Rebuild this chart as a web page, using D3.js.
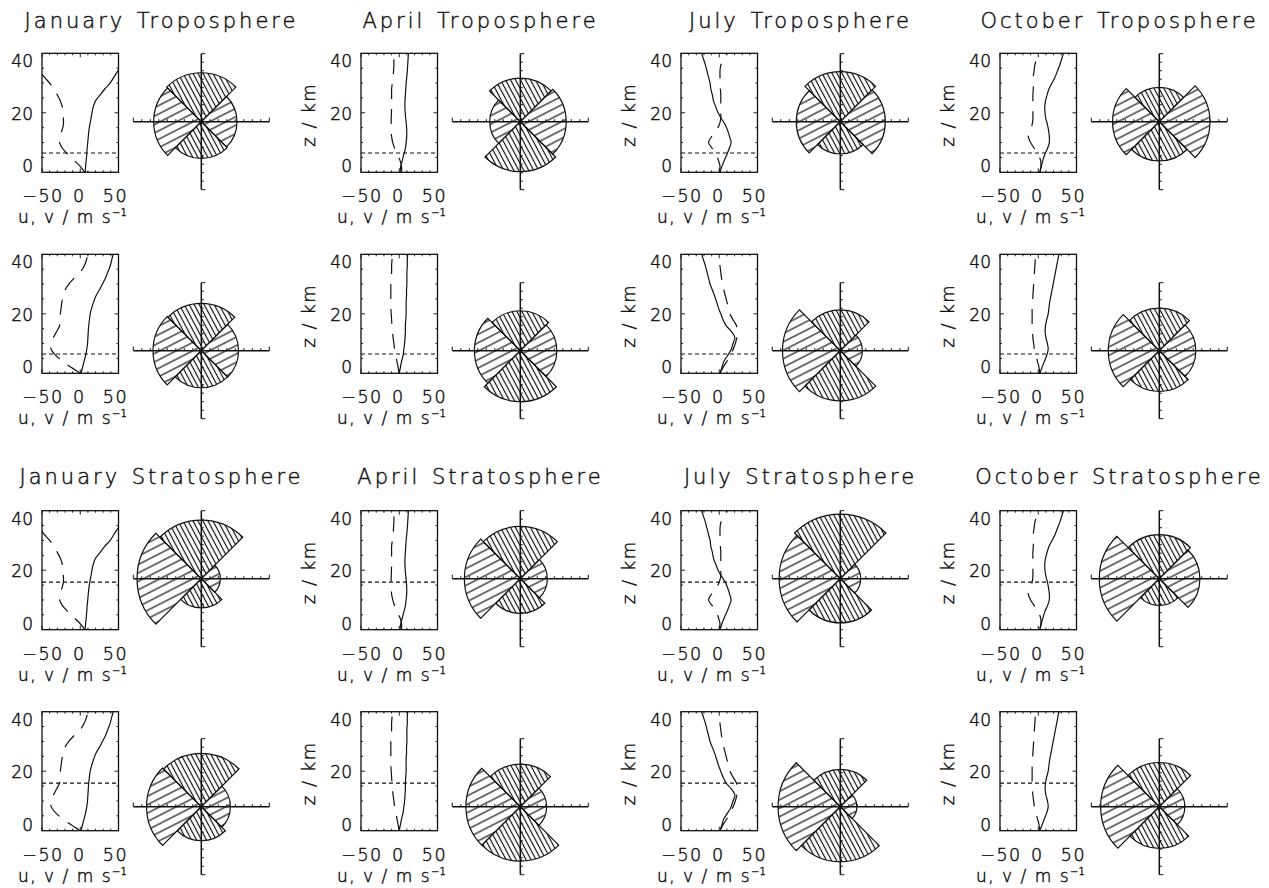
<!DOCTYPE html>
<html>
<head>
<meta charset="utf-8">
<script src="https://cdn.jsdelivr.net/npm/d3@7/dist/d3.min.js"></script>
<style>
  body { margin: 0; background: #fff; }
  svg text {
    font-family: "DejaVu Sans", "Liberation Sans", sans-serif;
    font-weight: 300;
    fill: #111;
    stroke: #111;
    stroke-width: 0.45px;
  }
</style>
</head>
<body>
<svg id="chart" width="1269" height="888"></svg>
<script>
// ---------------------------------------------------------------------------
// Data
// ---------------------------------------------------------------------------
const months = ["January", "April", "July", "October"];
const layerNames = ["Troposphere", "Stratosphere"];

// height grid (km) shared by all wind profiles
const zGrid = [0, 2, 4, 6, 8, 10, 12, 14, 16, 18, 20, 22, 24, 26, 28, 30, 32, 34, 36, 38, 40];

// zonal (u, solid) and meridional (v, dashed) wind, m/s, site A
const janUA = [6.5, 7, 7.8, 8.5, 9, 9.8, 10.5, 11.3, 12.5, 14, 15.3, 17, 20, 26, 32, 39, 44, 49, 54, 58, 62];
const janVA = [6, 0, -8, -16, -23, -27, -27, -24, -22, -22, -22, -23.5, -26, -30, -35, -40, -47, -53, -58, -62, -65];
const aprUA = [1, 2, 4, 6, 8, 9, 9.7, 9.8, 9.3, 8.5, 7.8, 7.4, 7.5, 8, 8.5, 9, 9.8, 10.5, 11, 11.5, 12];
const aprVA = [3, 3, 1, -3, -6, -8.5, -10, -10.5, -10.5, -10.5, -10.2, -10, -10, -10, -10, -9, -8, -7.5, -7, -7, -7];
const julUA = [1, 3.5, 6.5, 10, 13, 15.5, 13.5, 11, 7.8, 2.8, -1.5, -4.5, -7.5, -9, -11, -12, -14, -16, -18, -20.5, -23];
const julVA = [0, 1, -1, -4, -9, -14, -10, -4, 0, 2, 2, 2, 2, 2, 1.5, 1, 1, 1, 2, 6, 10];
const octUA = [2, 4, 6, 8.5, 12, 14.5, 14.5, 13.5, 12, 10, 8.8, 8.5, 9.5, 11.5, 14, 18, 22, 25, 28, 30.5, 33];
const octVA = [2, 3.5, 3, 0, -5, -10, -13, -11, -8, -7, -7, -7, -7, -7, -6.5, -6.5, -6.5, -5.5, -4.5, -2.5, 0];

// site B
const janUB = [1, 3, 5, 7, 8.5, 9.5, 10, 10.5, 11, 12, 13, 15, 17.5, 20.5, 25, 29, 33, 36, 39, 41, 43];
const janVB = [0, -12, -23, -32, -38, -38, -35, -31, -27, -26, -26, -25, -24, -22.5, -20, -15, -8, 0, 5, 8, 10];
const aprUB = [0, 1.5, 3, 5, 6, 7, 7.5, 8, 8, 8.5, 9, 9, 9, 9.5, 9.5, 10, 10, 10, 10.5, 10.5, 11];
const aprVB = [0, -1.5, -3, -4.5, -6, -7, -8, -9, -9.5, -10, -10.5, -11, -11, -11, -11, -11, -10.5, -10, -10, -9.5, -9];
const julUB = [1, 3.5, 6, 11, 15.5, 18, 20.5, 16, 9, 5, 2, -1, -3.5, -6, -9, -12, -14, -16, -18, -20.5, -23];
const julVB = [1, 5, 10, 14, 18, 21, 23, 23, 22.5, 18, 14, 12, 10, 8, 6, 4.5, 3, 2, 1, 0.5, 0];
const octUB = [2, 5, 8, 11, 13, 12, 10, 9, 9.5, 11, 13, 14, 15, 16.5, 18, 19.5, 21, 22.5, 24, 25.5, 27];
const octVB = [2, 1, -1, -3, -5, -6, -7, -7.5, -8, -8, -8, -8, -7.5, -7, -6.5, -6, -5.5, -5, -4.5, -4, -4];

// reference level (km) marked in each layer's profile
const layerLevels = [6.5, 16];

// wind-direction frequency (%) per quadrant: [N, E, S, W]
const roseTropA  = [[28.8, 21, 21.6, 28], [25.6, 27, 29.4, 18], [29.4, 26.5, 19, 25.9], [20.2, 29.8, 23.1, 27.5]];
const roseTropB  = [[27.8, 21.9, 21.8, 28.4], [23.5, 21.5, 30, 27], [24, 13, 29.5, 34], [25, 21.5, 24, 30]];
const roseStratA = [[34.5, 11.2, 17.2, 37.8], [30.8, 15.9, 20.4, 32.9], [38, 12, 26, 36], [25.9, 23.9, 15.7, 35.3]];
const roseStratB = [[31.4, 17.1, 20, 32.2], [25, 15.5, 32, 32], [22, 9.8, 32.4, 36.6], [26, 15, 24.5, 34.5]];

const xTickValues = [-50, 0, 50];
const zTickValues = [0, 20, 40];

// ---------------------------------------------------------------------------
// Layout
// ---------------------------------------------------------------------------
const svg = d3.select("#chart");
const colLeft = [42, 361, 681, 1000];
const boxW = 76.5, boxH = 119;
const rowTop = [53.3, 254.3, 510.7, 711.7];
const roseCy = [121.7, 350.7, 578.7, 806.7];
const roseDx = 159.3;
const titleBase = [28.3, 484.3];

const profilesA = [[janUA, janVA], [aprUA, aprVA], [julUA, julVA], [octUA, octVA]];
const profilesB = [[janUB, janVB], [aprUB, aprVB], [julUB, julVB], [octUB, octVB]];

// rows: troposphere A, troposphere B, stratosphere A, stratosphere B
const rows = [
  { prof: profilesA, rose: roseTropA, layer: 0 },
  { prof: profilesB, rose: roseTropB, layer: 0 },
  { prof: profilesA, rose: roseStratA, layer: 1 },
  { prof: profilesB, rose: roseStratB, layer: 1 }
];

// hatch patterns
const defs = svg.append("defs");
function hatch(id, angle, gap) {
  const p = defs.append("pattern")
    .attr("id", id)
    .attr("patternUnits", "userSpaceOnUse")
    .attr("width", 20).attr("height", gap)
    .attr("patternTransform", `rotate(${angle})`);
  p.append("line")
    .attr("x1", -1).attr("x2", 21)
    .attr("y1", gap / 2).attr("y2", gap / 2)
    .attr("stroke", "#000").attr("stroke-width", 1.1);
}
hatch("hatchNS", 62, 4.4);
hatch("hatchEW", -27, 7.5);

const rScale = d3.scaleLinear().domain([0, 40]).range([0, 68]);
const roseTicks = [5, 10, 15, 20, 25, 30, 35, 40];
const arc = d3.arc().innerRadius(0);

// titles
titleBase.forEach((yb, li) => {
  months.forEach((m, ci) => {
    svg.append("text")
      .attr("x", colLeft[ci] + 119.5)
      .attr("y", yb)
      .attr("text-anchor", "middle")
      .style("font-size", "21px")
      .style("letter-spacing", "3px")
      .style("word-spacing", "2px")
      .text(`${m} ${layerNames[li]}`);
  });
});

rows.forEach((row, ri) => {
  months.forEach((m, ci) => {
    const left = colLeft[ci], top = rowTop[ri];
    const right = left + boxW, bottom = top + boxH;
    const x = d3.scaleLinear().domain([-50, 50]).range([left, right]);
    const y = d3.scaleLinear().domain([0, 40]).range([bottom, top]);
    const xLab = d3.scaleLinear().domain([-50, 50]).range([left + 1, right - 3]);
    const yLab = d3.scaleLinear().domain([0, 40]).range([bottom, top + 14]);
    const g = svg.append("g");

    const clipId = `clip-${ri}-${ci}`;
    defs.append("clipPath").attr("id", clipId)
      .append("rect").attr("x", left).attr("y", top).attr("width", boxW).attr("height", boxH);

    // ticks inside the frame
    const tickG = g.append("g").attr("stroke", "#222").attr("stroke-width", 1);
    [-40, -30, -20, -10, 0, 10, 20, 30, 40, -50, 50].forEach(v => {
      const len = xTickValues.includes(v) ? 4 : 2;
      tickG.append("line").attr("x1", x(v)).attr("x2", x(v)).attr("y1", bottom).attr("y2", bottom - len);
      tickG.append("line").attr("x1", x(v)).attr("x2", x(v)).attr("y1", top).attr("y2", top + len);
    });
    [5, 10, 15, 20, 25, 30, 35].forEach(v => {
      const len = zTickValues.includes(v) ? 4 : 2;
      tickG.append("line").attr("x1", left).attr("x2", left + len).attr("y1", y(v)).attr("y2", y(v));
      tickG.append("line").attr("x1", right).attr("x2", right - len).attr("y1", y(v)).attr("y2", y(v));
    });

    // profiles
    const [uArr, vArr] = row.prof[ci];
    const pg = g.append("g").attr("clip-path", `url(#${clipId})`);
    const line = d3.line().x(d => x(d[0])).y(d => y(d[1])).curve(d3.curveCatmullRom);
    pg.append("path")
      .attr("d", line(zGrid.map((z, i) => [uArr[i], z])))
      .attr("fill", "none").attr("stroke", "#111").attr("stroke-width", 1.2);
    pg.append("path")
      .attr("d", line(zGrid.map((z, i) => [vArr[i], z])))
      .attr("fill", "none").attr("stroke", "#111").attr("stroke-width", 1.2)
      .attr("stroke-dasharray", "15,10");
    const lvl = layerLevels[row.layer];
    pg.append("line")
      .attr("x1", left).attr("x2", right).attr("y1", y(lvl)).attr("y2", y(lvl))
      .attr("stroke", "#111").attr("stroke-width", 1.1).attr("stroke-dasharray", "4,3");

    // frame
    g.append("rect").attr("x", left).attr("y", top).attr("width", boxW).attr("height", boxH)
      .attr("fill", "none").attr("stroke", "#111").attr("stroke-width", 1.3);

    // tick labels
    zTickValues.forEach(v => {
      g.append("text").attr("x", left - 9).attr("y", yLab(v))
        .attr("text-anchor", "end").style("font-size", "17px").text(v);
    });
    xTickValues.forEach(v => {
      g.append("text").attr("x", xLab(v)).attr("y", bottom + 30)
        .attr("text-anchor", "middle").style("font-size", "17.5px").style("letter-spacing", "1.5px")
        .text(v < 0 ? "\u2212" + Math.abs(v) : v);
    });
    const xt = g.append("text").attr("x", left - 24).attr("y", bottom + 51)
      .style("font-size", "17px").style("letter-spacing", "1.5px");
    xt.append("tspan").text("u, v / m s");
    xt.append("tspan").attr("dy", -7).style("font-size", "10px").style("letter-spacing", "0px").text("\u22121");

    // height label sits left of the frame (no room beside the first column)
    if (ci > 0) {
      g.append("text")
        .attr("transform", `translate(${left - 46},${(top + bottom) / 2 + 2}) rotate(-90)`)
        .attr("text-anchor", "middle").style("font-size", "18px").style("letter-spacing", "1.5px")
        .text("z / km");
    }

    // wind rose
    const cx = left + roseDx, cy = roseCy[ri];
    const rg = g.append("g").attr("transform", `translate(${cx},${cy})`);
    row.rose[ci].forEach((val, k) => {
      rg.append("path")
        .attr("d", arc({ outerRadius: rScale(val), startAngle: k * Math.PI / 2 - Math.PI / 4, endAngle: k * Math.PI / 2 + Math.PI / 4 }))
        .attr("fill", k % 2 === 0 ? "url(#hatchNS)" : "url(#hatchEW)")
        .attr("stroke", "#111").attr("stroke-width", 1.2);
    });
    const R = rScale(40);
    const ax = rg.append("g").attr("stroke", "#111");
    ax.append("line").attr("x1", -R).attr("x2", R).attr("y1", 0).attr("y2", 0).attr("stroke-width", 1.5);
    ax.append("line").attr("x1", 0).attr("x2", 0).attr("y1", -R).attr("y2", R).attr("stroke-width", 1.5);
    roseTicks.forEach(t => {
      const len = t === 40 ? 4 : 2.5;
      [-1, 1].forEach(s => {
        ax.append("line").attr("x1", s * rScale(t)).attr("x2", s * rScale(t)).attr("y1", 0).attr("y2", -len).attr("stroke-width", 1);
        ax.append("line").attr("x1", 0).attr("x2", len).attr("y1", s * rScale(t)).attr("y2", s * rScale(t)).attr("stroke-width", 1);
      });
    });
    rg.append("circle").attr("r", 2.2).attr("fill", "#111");
  });
});
</script>
</body>
</html>
